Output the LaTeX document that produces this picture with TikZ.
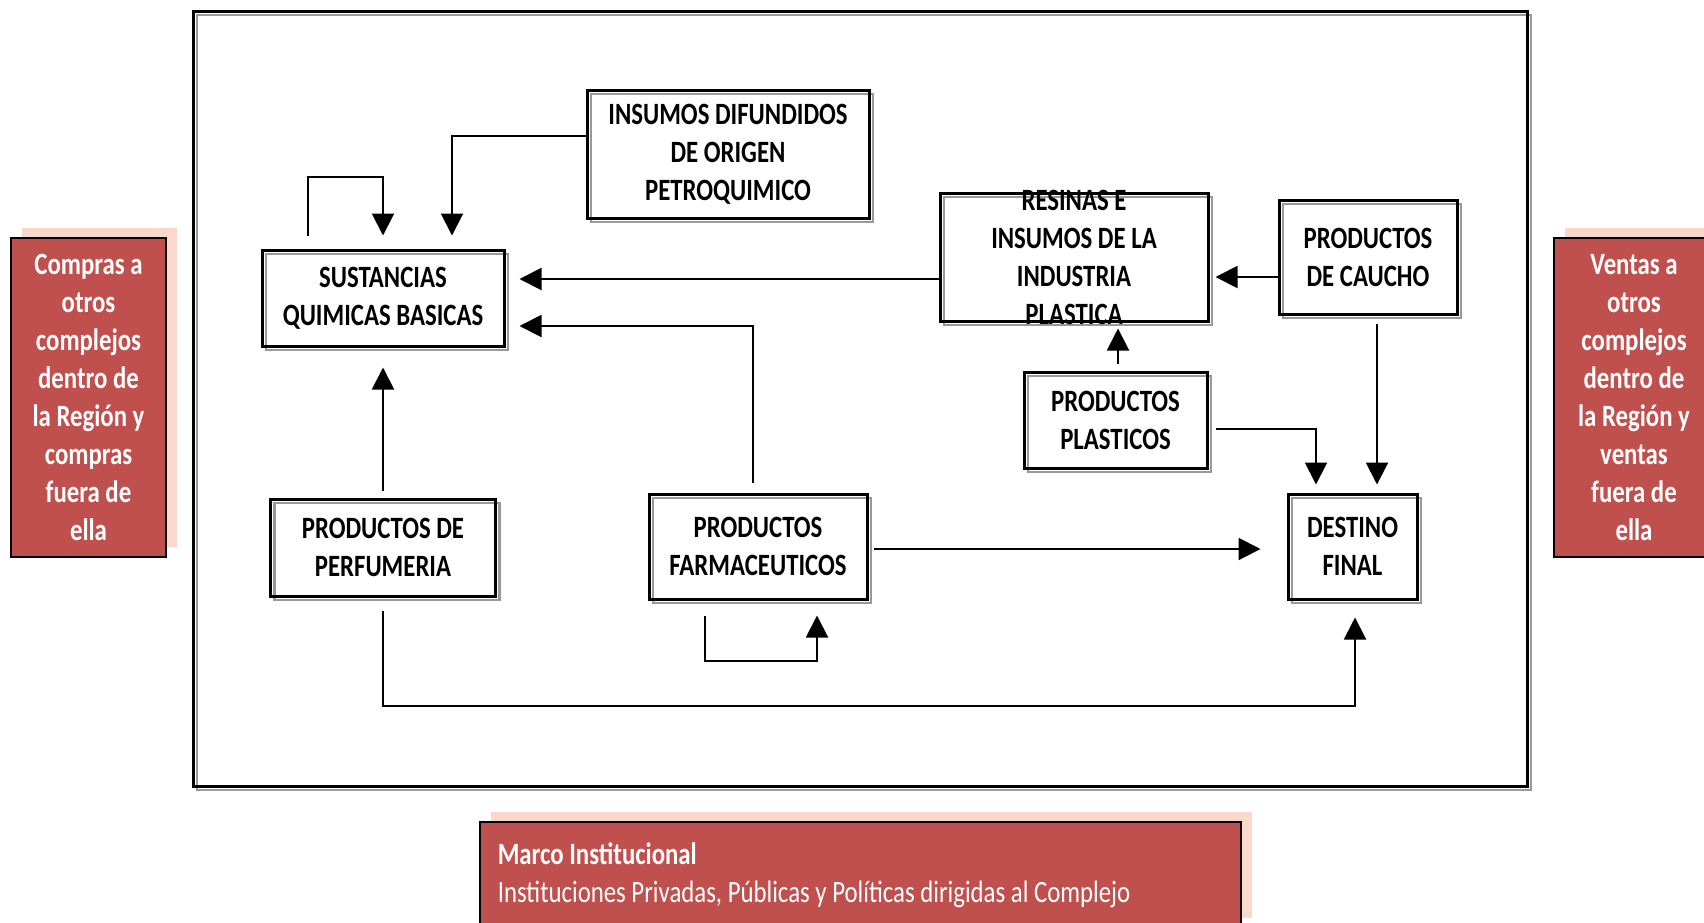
\documentclass[tikz,border=0pt]{standalone}
\usepackage{fontspec}
\setmainfont[FakeStretch=0.8]{Carlito}
\usetikzlibrary{arrows.meta}
\definecolor{rojo}{RGB}{192,80,77}
\definecolor{rosa}{RGB}{252,215,203}

\begin{document}
\begin{tikzpicture}[x=1pt, y=-1pt, line width=2pt,
    letra/.style = {font=\bfseries\fontsize{31}{38}\selectfont},
    caja/.style = {draw, line width=3pt, align=center, inner sep=0pt, letra,
      preaction={draw=gray!80, line width=2.5pt, transform canvas={shift={(4pt,-4pt)}}}},
    ext/.style = {draw, line width=1.5pt, fill=rojo, text=white, align=center, inner sep=0pt, letra,
      preaction={fill=rosa, transform canvas={shift={(11pt,10pt)}}}},
    flecha/.style = {-{Triangle[width=22pt,length=22pt]}}]
      \useasboundingbox (0,0) rectangle (1704,922);
      \draw[line width=3pt, preaction={draw=gray!80, line width=2.5pt, transform canvas={shift={(4pt,-4pt)}}}] (193,11) rectangle (1527,786);
      \node[caja, minimum width=242pt, minimum height=96pt] (1) at (383,298) {SUSTANCIAS\\QUIMICAS BASICAS};
      \node[caja, minimum width=282pt, minimum height=128pt] (2) at (728,154) {INSUMOS DIFUNDIDOS\\DE ORIGEN\\PETROQUIMICO};
      \node[caja, minimum width=268pt, minimum height=128pt,
        label={[letra, align=center]center:{RESINAS E\\INSUMOS DE LA\\INDUSTRIA\\PLASTICA}}] (3) at (1074,257) {};
      \node[caja, minimum width=178pt, minimum height=114pt] (4) at (1368,257) {PRODUCTOS\\DE CAUCHO};
      \node[caja, minimum width=183pt, minimum height=96pt] (5) at (1115.5,420) {PRODUCTOS\\PLASTICOS};
      \node[caja, minimum width=225pt, minimum height=97pt] (6) at (383,547.5) {PRODUCTOS DE\\PERFUMERIA};
      \node[caja, minimum width=218pt, minimum height=105pt] (7) at (758,546.5) {PRODUCTOS\\FARMACEUTICOS};
      \node[caja, minimum width=129pt, minimum height=105pt] (8) at (1352.5,546.5) {DESTINO\\FINAL};
      % afuera del complejo
      \node[ext, minimum width=155pt, minimum height=319pt] (a) at (88.5,397.5) {Compras a\\otros\\complejos\\dentro de\\la Región y\\compras\\fuera de\\ella};
      \node[ext, minimum width=160pt, minimum height=319pt] (b) at (1634,397.5) {Ventas a\\otros\\complejos\\dentro de\\la Región y\\ventas\\fuera de\\ella};
      \node[ext, anchor=north west, minimum width=761pt, minimum height=106pt, align=flush left, text width=725pt, inner xsep=18pt,
        font=\fontsize{31}{38}\selectfont] (c) at (479,821) {\textbf{Marco Institucional}\\Instituciones Privadas, Públicas y Políticas dirigidas al Complejo};
      % flujos
      \draw[flecha] ([xshift=-75pt,yshift=13pt]1.north) -- ++(0,-59) -| ([yshift=13pt]1.north);
      \draw[flecha] ([yshift=18pt]2.west) -| ([xshift=69pt,yshift=13pt]1.north);
      \draw[flecha] ([yshift=-22pt]3.west) -- ([xshift=14pt,yshift=19pt]1.east);
      \draw[flecha] ([xshift=-5pt,yshift=10pt]7.north) |- ([xshift=14pt,yshift=-28pt]1.east);
      \draw[flecha] ([yshift=7pt]6.north) -- ([yshift=-20pt]1.south);
      \draw[flecha] ([yshift=-20pt]4.west) -- ([xshift=6pt,yshift=-20pt]3.east);
      \draw[flecha] ([xshift=2.5pt,yshift=7pt]5.north) -- ([xshift=44pt,yshift=-6pt]3.south);
      \draw[flecha] ([xshift=7pt,yshift=-9pt]5.east) -| ([xshift=-36.5pt,yshift=8pt]8.north);
      \draw[flecha] ([xshift=9pt,yshift=-8pt]4.south) -- ([xshift=24.5pt,yshift=8pt]8.north);
      \draw[flecha] ([xshift=5pt,yshift=-2.5pt]7.east) -- ([xshift=-26pt,yshift=-2.5pt]8.west);
      \draw[flecha] ([xshift=-53pt,yshift=-15pt]7.south) -- ++(0,45) -| ([xshift=59pt,yshift=-15pt]7.south);
      \draw[flecha] ([yshift=-13pt]6.south) -- ++(0,95) -| ([xshift=2.5pt,yshift=-17pt]8.south);
    \end{tikzpicture}
\end{document}
